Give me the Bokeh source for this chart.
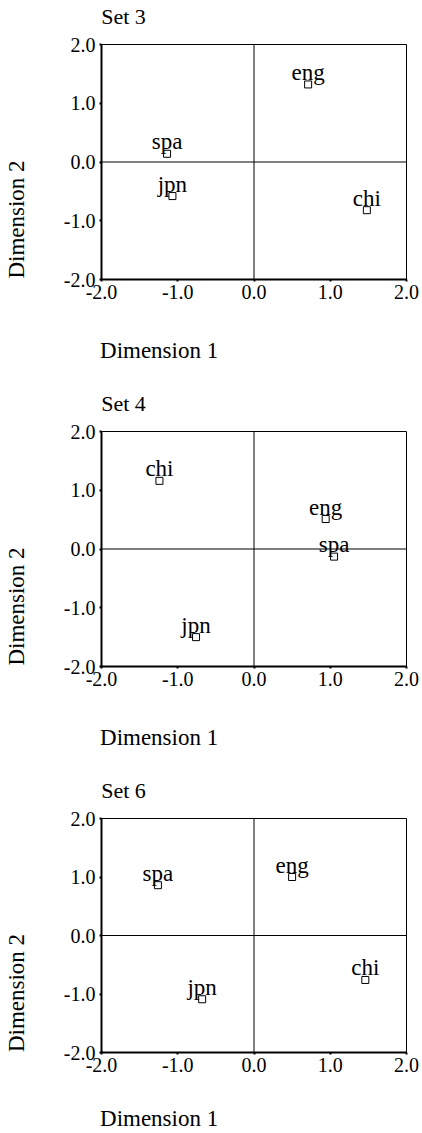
from bokeh.plotting import figure
from bokeh.layouts import column
from bokeh.models import (Range1d, Span, LinearAxis, FixedTicker, PrintfTickFormatter,
                          ColumnDataSource)
from bokeh.core.properties import value
from bokeh.embed import file_html
from bokeh.resources import INLINE

FONT = "Liberation Serif"
NBSP = "\u00a0"

set_titles = ["Set 3", "Set 4", "Set 6"]

set3_labels = ["eng", "spa", "jpn", "chi"]
set3_dim1 = [0.71, -1.14, -1.07, 1.48]
set3_dim2 = [1.32, 0.14, -0.58, -0.82]

set4_labels = ["chi", "eng", "spa", "jpn"]
set4_dim1 = [-1.24, 0.94, 1.05, -0.76]
set4_dim2 = [1.16, 0.51, -0.13, -1.50]

set6_labels = ["spa", "eng", "jpn", "chi"]
set6_dim1 = [-1.26, 0.50, -0.68, 1.46]
set6_dim2 = [0.86, 1.00, -1.09, -0.76]

ticks = [-2.0, -1.0, 0.0, 1.0, 2.0]
x_title = "Dimension 1"
y_title = "Dimension 2"

panels = [
    (set_titles[0], set3_labels, set3_dim1, set3_dim2),
    (set_titles[1], set4_labels, set4_dim1, set4_dim2),
    (set_titles[2], set6_labels, set6_dim1, set6_dim2),
]

# layout per panel: (figure height, x-title standoff)
layouts = [(387, 36), (387, 36), (359, 31)]
TOP = 44
FRAME_H = 235
FRAME_W = 308
WIDTH = 422
LEFT = 98


def lead_pad(text, n_pad):
    # axis label centred on the axis start: leading no-break spaces move the
    # visible words so that they begin at the axis start
    return NBSP * n_pad + text


def trail_pad(text, n_pad):
    # axis label centred on the axis: trailing no-break spaces move the
    # visible words so that they begin at the axis origin corner
    return text + NBSP * n_pad


def make_panel(title, labels, xs, ys, height, xt_standoff):
    bottom = height - TOP - FRAME_H
    p = figure(width=WIDTH, height=height, output_backend="svg", toolbar_location=None,
               x_range=Range1d(-2, 2), y_range=Range1d(-2, 2),
               min_border_left=LEFT, min_border_right=WIDTH - LEFT - FRAME_W,
               min_border_top=TOP, min_border_bottom=bottom,
               background_fill_color="white", border_fill_color="white")
    p.grid.visible = False
    p.outline_line_color = "black"
    p.outline_line_width = 1
    p.outline_line_alpha = 1.0
    for ax in (p.xaxis[0], p.yaxis[0]):
        ax.ticker = FixedTicker(ticks=ticks)
        ax.formatter = PrintfTickFormatter(format="%.1f")
        ax.axis_line_width = 2
        ax.axis_line_color = "black"
        ax.major_tick_line_width = 2
        ax.major_tick_line_color = "black"
        ax.major_tick_in = 0
        ax.major_tick_out = 2
        ax.minor_tick_line_color = None
        ax.major_label_text_font = FONT
        ax.major_label_text_font_size = "20px"
        ax.major_label_text_color = "black"
        ax.axis_label_text_font = FONT
        ax.axis_label_text_font_size = "23px"
        ax.axis_label_text_font_style = "normal"
        ax.axis_label_text_color = "black"
        ax.axis_label_align = "center"
    p.xaxis.major_label_standoff = 3
    p.yaxis.major_label_standoff = 4
    p.xaxis.axis_label = trail_pad(x_title, 33)
    p.xaxis.axis_label_standoff = xt_standoff
    p.yaxis.axis_label = trail_pad(y_title, 20)
    p.yaxis.axis_label_standoff = 32

    top_ax = LinearAxis(ticker=FixedTicker(ticks=[]), axis_line_color=None,
                        major_tick_line_color=None, minor_tick_line_color=None,
                        axis_label=lead_pad(title, 8), axis_label_align="start",
                        axis_label_standoff=16,
                        axis_label_text_font=FONT, axis_label_text_font_size="22px",
                        axis_label_text_font_style="normal", axis_label_text_color="black")
    p.add_layout(top_ax, "above")

    p.add_layout(Span(location=0, dimension="width", line_color="black", line_width=1))
    p.add_layout(Span(location=0, dimension="height", line_color="black", line_width=1))

    src = ColumnDataSource(dict(x=xs, y=ys, t=labels))
    p.scatter("x", "y", source=src, marker="square", size=7, line_color="black",
              line_width=1, fill_color="white")
    p.text("x", "y", text="t", source=src, text_align="center", text_baseline="alphabetic",
           y_offset=-12, text_font=value(FONT), text_font_size="23px",
           text_color="black")
    return p


figs = []
for (title, labels, xs, ys), (h, xt) in zip(panels, layouts):
    figs.append(make_panel(title, labels, xs, ys, h, xt))

layout = column(*figs, spacing=0)
open("out.html", "w").write(file_html(layout, INLINE))
